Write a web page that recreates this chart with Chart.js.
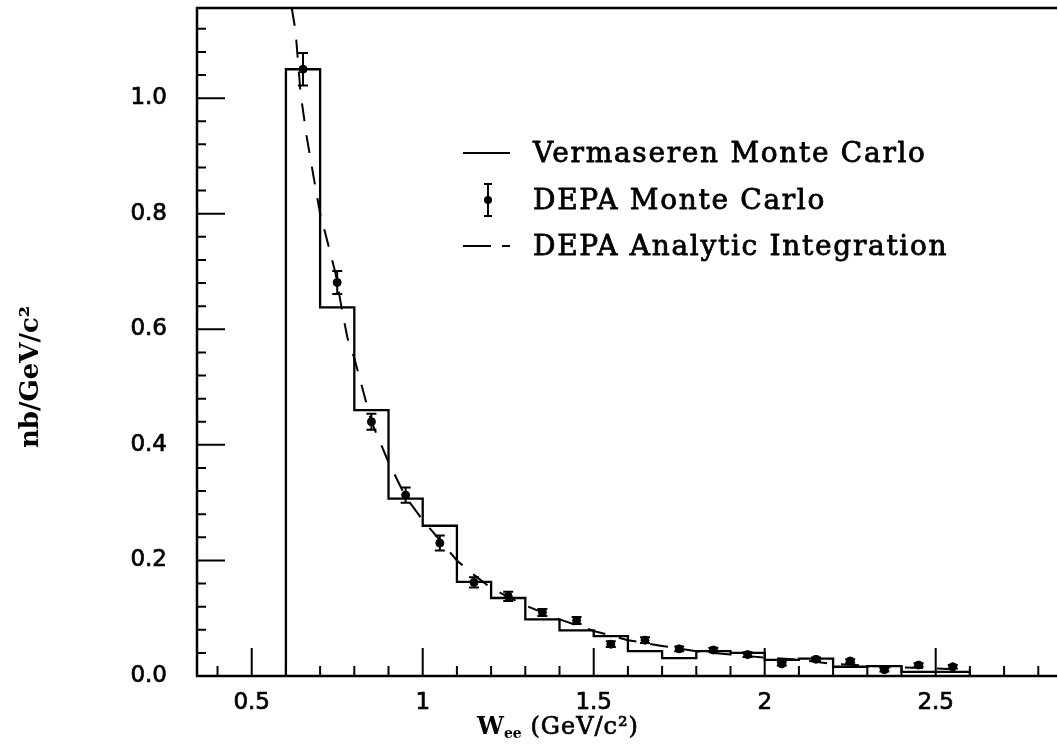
<!DOCTYPE html>
<html><head><meta charset="utf-8">
<script src="https://cdn.jsdelivr.net/npm/chart.js@4.4.1/dist/chart.umd.min.js"></script>
<style>html,body{margin:0;padding:0;background:#fff}canvas{display:block}</style>
</head><body>
<canvas id="c" width="1058" height="754"></canvas>
<script>
// ---- data ----
const binLowEdges = [0.6,0.7,0.8,0.9,1.0,1.1,1.2,1.3,1.4,1.5,1.6,1.7,1.8,1.9,2.0,2.1,2.2,2.3,2.4,2.5];
const binHighEdge = 2.6;
const vermaserenValues = [1.050,0.638,0.460,0.307,0.260,0.163,0.135,0.098,0.079,0.069,0.043,0.031,0.043,0.040,0.028,0.030,0.016,0.017,0.007,0.007];

const depaCenters = [0.65,0.75,0.85,0.95,1.05,1.15,1.25,1.35,1.45,1.55,1.65,1.75,1.85,1.95,2.05,2.15,2.25,2.35,2.45,2.55];
const depaValues  = [1.050,0.681,0.440,0.313,0.230,0.162,0.138,0.110,0.096,0.055,0.062,0.047,0.045,0.037,0.021,0.029,0.026,0.011,0.019,0.016];
const depaErrors  = [0.028,0.020,0.014,0.013,0.013,0.009,0.008,0.006,0.006,0.005,0.005,0.004,0.004,0.004,0.003,0.003,0.003,0.003,0.003,0.003];

const analyticX = [0.617,0.628,0.643,0.660,0.680,0.700,0.720,0.745,0.765,0.780,0.800,0.850,0.900,0.950,1.000,1.050,1.100,1.150,1.200,1.300,1.400,1.500,1.600,1.700,1.800,1.900,2.000,2.100,2.200,2.300,2.400,2.500,2.600];
const analyticY = [1.156,1.117,1.008,0.936,0.867,0.800,0.755,0.697,0.630,0.585,0.550,0.440,0.370,0.310,0.270,0.235,0.200,0.175,0.152,0.122,0.098,0.078,0.062,0.052,0.043,0.037,0.032,0.028,0.021,0.018,0.015,0.013,0.011];

const xMajorTicks = [0.5,1.0,1.5,2.0,2.5];
const xTickLabels = ['0.5','1','1.5','2','2.5'];
const xMinorTicks = [0.4,0.6,0.7,0.8,0.9,1.1,1.2,1.3,1.4,1.6,1.7,1.8,1.9,2.1,2.2,2.3,2.4,2.6,2.7,2.8];
const yMajorTicks = [0,0.2,0.4,0.6,0.8,1.0];
const yTickLabels = ['0.0','0.2','0.4','0.6','0.8','1.0'];
const yMinorTicks = [0.04,0.08,0.12,0.16,0.24,0.28,0.32,0.36,0.44,0.48,0.52,0.56,0.64,0.68,0.72,0.76,0.84,0.88,0.92,0.96,1.04,1.08,1.12];

const legendLabels = ['Vermaseren Monte Carlo','DEPA Monte Carlo','DEPA Analytic Integration'];
const yAxisTitle = 'nb/GeV/c\u00B2';
const xAxisTitleMain = 'W';
const xAxisTitleSub = 'ee';
const xAxisTitleRest = ' (GeV/c\u00B2)';

// ---- build library data from the arrays ----
const histPoints = [{x: binLowEdges[0], y: 0}];
binLowEdges.forEach((e, i) => histPoints.push({x: e, y: vermaserenValues[i]}));
histPoints.push({x: binHighEdge, y: vermaserenValues[vermaserenValues.length - 1]});
histPoints.push({x: binHighEdge, y: 0});
const depaPoints = depaCenters.map((c, i) => ({x: c, y: depaValues[i]}));
const analyticPoints = analyticX.map((x, i) => ({x: x, y: analyticY[i]}));

function heavyText(ctx, t, x, y, w) {
  ctx.fillText(t, x, y);
  ctx.lineWidth = w;
  ctx.strokeText(t, x, y);
}

const framePlugin = {
  id: 'frame',
  afterDatasetsDraw(chart) {
    const ctx = chart.ctx, a = chart.chartArea, xs = chart.scales.x, ys = chart.scales.y;
    ctx.save();
    ctx.strokeStyle = '#000';
    // error bars
    ctx.lineWidth = 2;
    depaCenters.forEach((c, i) => {
      const px = xs.getPixelForValue(c);
      const lo = ys.getPixelForValue(depaValues[i] - depaErrors[i]);
      const hi = ys.getPixelForValue(depaValues[i] + depaErrors[i]);
      ctx.beginPath();
      ctx.moveTo(px, lo); ctx.lineTo(px, hi);
      ctx.moveTo(px - 5, lo); ctx.lineTo(px + 5, lo);
      ctx.moveTo(px - 5, hi); ctx.lineTo(px + 5, hi);
      ctx.stroke();
    });
    // frame
    ctx.lineWidth = 2.5;
    ctx.beginPath();
    ctx.moveTo(a.right + 4, a.top); ctx.lineTo(a.left, a.top); ctx.lineTo(a.left, a.bottom); ctx.lineTo(a.right + 4, a.bottom);
    ctx.stroke();
    // inward ticks
    ctx.lineWidth = 2;
    ctx.beginPath();
    xMajorTicks.forEach(v => { const p = xs.getPixelForValue(v); ctx.moveTo(p, a.bottom); ctx.lineTo(p, a.bottom - 28); });
    xMinorTicks.forEach(v => { const p = xs.getPixelForValue(v); ctx.moveTo(p, a.bottom); ctx.lineTo(p, a.bottom - 10); });
    yMajorTicks.forEach(v => { const p = ys.getPixelForValue(v); ctx.moveTo(a.left, p); ctx.lineTo(a.left + 28, p); });
    yMinorTicks.forEach(v => { const p = ys.getPixelForValue(v); ctx.moveTo(a.left, p); ctx.lineTo(a.left + 9, p); });
    ctx.stroke();
    ctx.restore();
  },
  afterDraw(chart) {
    const ctx = chart.ctx;
    ctx.save();
    ctx.fillStyle = '#000'; ctx.strokeStyle = '#000';
    // legend
    const lx0 = 463, lx1 = 510, tx = 533;
    const rows = [153, 200, 246];
    ctx.font = '28px "DejaVu Serif"';
    ctx.textBaseline = 'middle';
    ctx.textAlign = 'left';
    try { ctx.letterSpacing = '1.7px'; } catch (e) {}
    legendLabels.forEach((t, i) => heavyText(ctx, t, tx, rows[i] + 2, 0.8));
    try { ctx.letterSpacing = '0px'; } catch (e) {}
    ctx.lineWidth = 2;
    ctx.beginPath(); ctx.moveTo(lx0, rows[0]); ctx.lineTo(lx1, rows[0]); ctx.stroke();
    const ex = 488;
    ctx.beginPath();
    ctx.moveTo(ex, rows[1] - 16); ctx.lineTo(ex, rows[1] + 16);
    ctx.moveTo(ex - 4, rows[1] - 16); ctx.lineTo(ex + 4, rows[1] - 16);
    ctx.moveTo(ex - 4, rows[1] + 16); ctx.lineTo(ex + 4, rows[1] + 16);
    ctx.stroke();
    ctx.beginPath(); ctx.arc(ex, rows[1], 4, 0, Math.PI * 2); ctx.fill();
    ctx.lineWidth = 2;
    ctx.beginPath(); ctx.moveTo(lx0, rows[2]); ctx.lineTo(491, rows[2]); ctx.moveTo(502, rows[2]); ctx.lineTo(510, rows[2]); ctx.stroke();
    // y title
    ctx.save();
    ctx.translate(31, 377);
    ctx.rotate(-Math.PI / 2);
    ctx.font = 'bold 26px "DejaVu Serif"';
    ctx.textAlign = 'center'; ctx.textBaseline = 'middle';
    ctx.fillText(yAxisTitle, 0, 0);
    ctx.restore();
    // x title
    let x = 477; const base = 734;
    ctx.textBaseline = 'alphabetic'; ctx.textAlign = 'left';
    ctx.font = 'bold 24px "DejaVu Serif"';
    ctx.fillText(xAxisTitleMain, x, base); x += ctx.measureText(xAxisTitleMain).width;
    ctx.font = 'bold 14px "DejaVu Serif"';
    ctx.fillText(xAxisTitleSub, x, base + 4); x += ctx.measureText(xAxisTitleSub).width;
    ctx.font = '24px "DejaVu Serif"';
    try { ctx.letterSpacing = '1px'; } catch (e) {}
    heavyText(ctx, xAxisTitleRest, x, base, 0.7);
    try { ctx.letterSpacing = '0px'; } catch (e) {}
    ctx.restore();
  }
};

new Chart(document.getElementById('c'), {
  type: 'scatter',
  data: {
    datasets: [
      {label: legendLabels[0], type: 'line', data: histPoints, stepped: 'before', borderColor: '#000', borderWidth: 2.3, pointRadius: 0, fill: false, tension: 0},
      {label: legendLabels[2], type: 'line', data: analyticPoints, borderColor: '#000', borderWidth: 2, borderDash: [18, 14], pointRadius: 0, fill: false, tension: 0},
      {label: legendLabels[1], data: depaPoints, pointRadius: 4, pointBackgroundColor: '#000', pointBorderColor: '#000', showLine: false}
    ]
  },
  options: {
    responsive: false, animation: false,
    layout: {padding: {top: 8, left: 0, right: 0, bottom: 0}},
    plugins: {legend: {display: false}, tooltip: {enabled: false}},
    scales: {
      x: {
        type: 'linear', min: 0.34, max: 2.843,
        grid: {display: false, drawTicks: false}, border: {display: false},
        afterBuildTicks: s => { s.ticks = xMajorTicks.map(v => ({value: v})); },
        afterFit: s => { s.height = 78; s.paddingLeft = 0; s.paddingRight = 0; },
        ticks: {padding: 13, color: '#000', textStrokeColor: '#000', textStrokeWidth: 0.7,
                font: {family: 'DejaVu Sans', size: 23}, maxRotation: 0, autoSkip: false,
                callback: (v, i) => xTickLabels[i]}
      },
      y: {
        type: 'linear', min: 0, max: 1.156,
        grid: {display: false, drawTicks: false}, border: {display: false},
        afterBuildTicks: s => { s.ticks = yMajorTicks.map(v => ({value: v})); },
        afterFit: s => { s.width = 197; s.paddingTop = 0; s.paddingBottom = 0; },
        ticks: {padding: 30, color: '#000', textStrokeColor: '#000', textStrokeWidth: 0.7,
                font: {family: 'DejaVu Sans', size: 23}, autoSkip: false,
                callback: (v, i) => yTickLabels[i]}
      }
    }
  },
  plugins: [framePlugin]
});
</script>
</body></html>
